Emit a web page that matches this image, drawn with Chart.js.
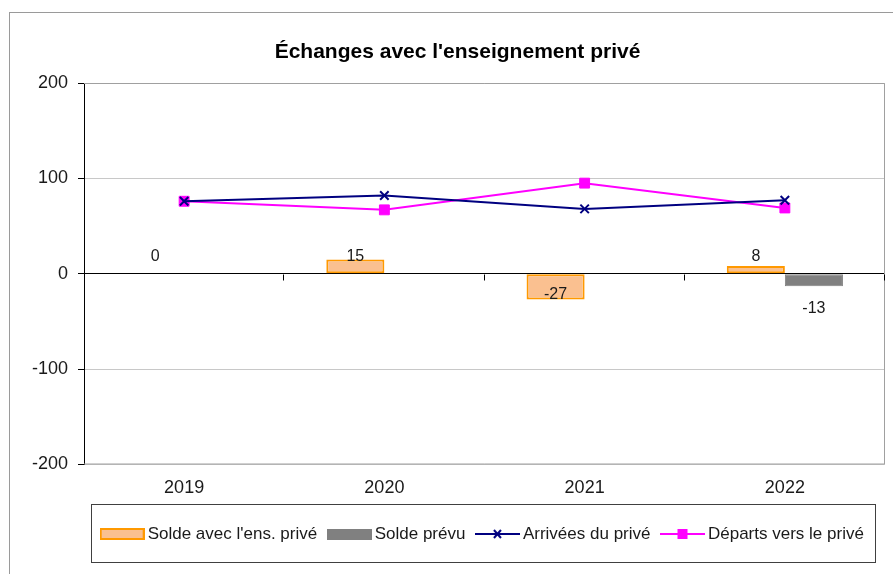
<!DOCTYPE html>
<html>
<head>
<meta charset="utf-8">
<script src="https://cdn.jsdelivr.net/npm/chart.js@4.4.1/dist/chart.umd.min.js"></script>
<style>
  html, body { margin: 0; padding: 0; background: #fff; }
  #wrap { width: 893px; height: 574px; position: relative; }
</style>
</head>
<body>
<div id="wrap"><canvas id="echanges" width="893" height="574"></canvas></div>
<script>
'use strict';

// données
const years = ['2019', '2020', '2021', '2022'];
const solde = [0, 15, -27, 8];
const soldePrevu = [null, null, null, -13];
const arrivees = [76, 82, 68, 77];
const departs = [76, 67, 95, 69];
const yTicks = [-200, -100, 0, 100, 200];

const orangeFill = '#fac090';
const orangeLine = '#ff9900';
const gris = '#808080';
const marine = '#000080';
const magenta = '#ff00ff';
const texte = '#1a1a1a';

Chart.defaults.font.family = "'Liberation Sans', Arial, sans-serif";
Chart.defaults.color = texte;

// petites images pour la légende
function legendIcon(draw) {
    const c = document.createElement('canvas');
    c.width = 45;
    c.height = 12;
    draw(c.getContext('2d'));
    return c;
}
const iconSolde = legendIcon(ctx => {
    ctx.fillStyle = orangeFill;
    ctx.fillRect(1, 1, 43, 10);
    ctx.strokeStyle = orangeLine;
    ctx.lineWidth = 2;
    ctx.strokeRect(1, 1, 43, 10);
});
const iconPrevu = legendIcon(ctx => {
    ctx.fillStyle = gris;
    ctx.fillRect(0, 1, 45, 11);
});
const iconArrivees = legendIcon(ctx => {
    ctx.strokeStyle = marine;
    ctx.lineWidth = 2;
    ctx.beginPath();
    ctx.moveTo(0, 6); ctx.lineTo(45, 6);
    ctx.moveTo(19, 2); ctx.lineTo(26, 10);
    ctx.moveTo(26, 2); ctx.lineTo(19, 10);
    ctx.stroke();
});
const iconDeparts = legendIcon(ctx => {
    ctx.strokeStyle = magenta;
    ctx.lineWidth = 2;
    ctx.beginPath();
    ctx.moveTo(0, 6); ctx.lineTo(45, 6);
    ctx.stroke();
    ctx.fillStyle = magenta;
    ctx.fillRect(17.5, 1, 10, 10);
});
const icons = [iconSolde, iconPrevu, iconArrivees, iconDeparts];

// cadre extérieur, bord de la zone de tracé, graduations sur l'axe 0, cadre de légende
const decor = {
    id: 'decor',
    beforeDraw(chart) {
        const ctx = chart.ctx;
        ctx.save();
        ctx.strokeStyle = '#9a9a9a';
        ctx.lineWidth = 1;
        ctx.strokeRect(9.5, 12.5, 1000, 1000);
        ctx.restore();
    },
    beforeDatasetsDraw(chart) {
        const {ctx, chartArea: a, scales: {x, y}} = chart;
        ctx.save();
        ctx.strokeStyle = '#a0a0a0';
        ctx.lineWidth = 1;
        ctx.beginPath();
        ctx.moveTo(a.left, a.top + 0.5);
        ctx.lineTo(a.right - 0.5, a.top + 0.5);
        ctx.lineTo(a.right - 0.5, a.bottom - 0.5);
        ctx.lineTo(a.left, a.bottom - 0.5);
        ctx.stroke();
        const y0 = Math.round(y.getPixelForValue(0)) + 0.5;
        ctx.strokeStyle = '#000';
        ctx.beginPath();
        for (let i = 0; i < years.length; i++) {
            const px = Math.round(x.getPixelForValue(i + 0.5)) - 0.5;
            ctx.moveTo(px, y0);
            ctx.lineTo(px, y0 + 6);
        }
        ctx.stroke();
        ctx.restore();
    },
    afterDraw(chart) {
        const boxes = chart.legend.legendHitBoxes;
        if (!boxes || !boxes.length) return;
        const first = boxes[0];
        const last = boxes[boxes.length - 1];
        const mid = first.top + first.height / 2;
        const ctx = chart.ctx;
        ctx.save();
        ctx.strokeStyle = '#404040';
        ctx.lineWidth = 1;
        ctx.strokeRect(Math.round(first.left - 14) + 0.5, Math.round(mid - 30) + 0.5,
            Math.round(last.left + last.width + 11 - (first.left - 14)), 58);
        ctx.restore();
    }
};

// étiquettes des barres
const barLabels = {
    id: 'barLabels',
    afterDatasetsDraw(chart) {
        const ctx = chart.ctx;
        const y0 = chart.scales.y.getPixelForValue(0);
        ctx.save();
        ctx.font = "16px 'Liberation Sans', Arial, sans-serif";
        ctx.fillStyle = texte;
        ctx.textAlign = 'center';
        ctx.textBaseline = 'middle';
        chart.data.datasets.forEach((ds, di) => {
            if (ds.type !== 'bar') return;
            chart.getDatasetMeta(di).data.forEach((el, i) => {
                const v = ds.data[i];
                if (v === null || v === undefined) return;
                let ty;
                if (v >= 0) ty = y0 - 17;
                else ty = el.y + ds.negLabelShift;
                ctx.fillText(String(v), el.x, ty);
            });
        });
        ctx.restore();
    }
};

const ctx = document.getElementById('echanges').getContext('2d');
new Chart(ctx, {
    data: {
        labels: years,
        datasets: [
            {
                type: 'bar',
                label: 'Solde avec l\'ens. privé',
                data: solde,
                backgroundColor: orangeFill,
                borderColor: orangeLine,
                borderWidth: 2,
                borderSkipped: false,
                categoryPercentage: 0.58,
                barPercentage: 1,
                negLabelShift: -5
            },
            {
                type: 'bar',
                label: 'Solde prévu',
                data: soldePrevu,
                backgroundColor: gris,
                borderColor: gris,
                borderWidth: 1,
                borderSkipped: false,
                categoryPercentage: 0.58,
                barPercentage: 1,
                negLabelShift: 22
            },
            {
                type: 'line',
                label: 'Arrivées du privé',
                data: arrivees,
                borderColor: marine,
                borderWidth: 2,
                tension: 0,
                pointStyle: 'crossRot',
                pointRadius: 6,
                pointBorderWidth: 2,
                pointBorderColor: marine
            },
            {
                type: 'line',
                label: 'Départs vers le privé',
                data: departs,
                borderColor: magenta,
                borderWidth: 2,
                tension: 0,
                pointStyle: 'rect',
                pointRadius: 7,
                pointBorderWidth: 1,
                pointBackgroundColor: magenta,
                pointBorderColor: magenta
            }
        ]
    },
    options: {
        responsive: false,
        animation: false,
        layout: { padding: { left: 30, right: 8, top: 0, bottom: 21.5 } },
        plugins: {
            title: {
                display: true,
                text: 'Échanges avec l\'enseignement privé',
                color: '#000',
                font: { size: 21, weight: 'bold' },
                padding: { top: 39.4, bottom: 18.4 }
            },
            legend: {
                position: 'bottom',
                fullSize: false,
                labels: {
                    usePointStyle: true,
                    pointStyleWidth: 34,
                    padding: 15,
                    color: texte,
                    font: { size: 17 },
                    generateLabels: chart => chart.data.datasets.map((ds, i) => ({
                        text: ds.label,
                        pointStyle: icons[i],
                        datasetIndex: i,
                        fillStyle: 'transparent',
                        strokeStyle: 'transparent',
                        lineWidth: 0,
                        fontColor: texte
                    }))
                }
            },
            tooltip: { enabled: false }
        },
        scales: {
            x: {
                grid: { display: false, drawTicks: false },
                border: { display: false },
                ticks: { font: { size: 18 }, color: texte, padding: 13 },
                afterFit: scale => { scale.height = 46; }
            },
            y: {
                min: -200,
                max: 200,
                afterBuildTicks: scale => { scale.ticks = yTicks.map(v => ({ value: v })); },
                ticks: {
                    font: { size: 18 },
                    color: texte,
                    padding: 10
                },
                grid: {
                    color: c => (c.tick && c.tick.value === 0) ? '#000' : '#c8c8c8',
                    tickColor: '#000',
                    tickLength: 6
                },
                border: { display: true, color: '#000', width: 1 },
                afterFit: scale => { scale.width = 54; }
            }
        }
    },
    plugins: [decor, barLabels]
});
</script>
</body>
</html>
